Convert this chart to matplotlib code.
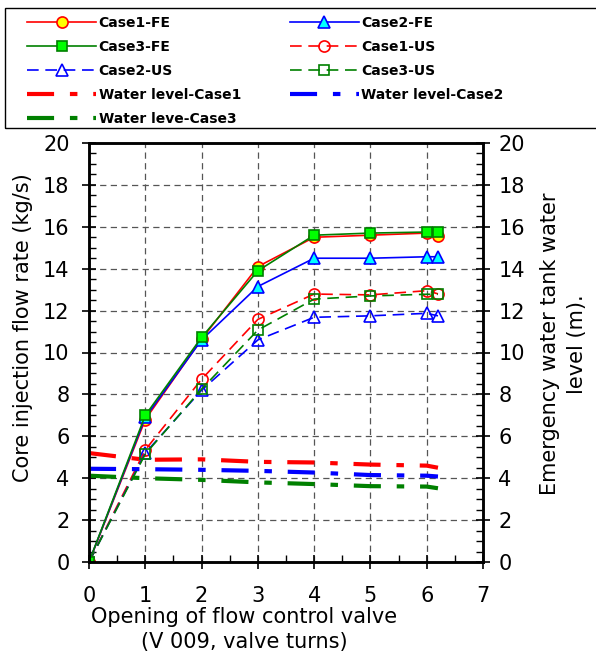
import matplotlib
matplotlib.use("Agg")
import matplotlib.pyplot as plt
from matplotlib.ticker import MultipleLocator
from matplotlib.patches import Rectangle

turns = [0, 1, 2, 3, 4, 5, 6, 6.2]
case1_fe = [0, 6.8, 10.63, 14.1, 15.5, 15.6, 15.7, 15.55]
case2_fe = [0, 6.9, 10.6, 13.15, 14.5, 14.5, 14.57, 14.57]
case3_fe = [0, 7.0, 10.72, 13.9, 15.6, 15.7, 15.75, 15.75]
case1_us = [0, 5.35, 8.72, 11.58, 12.79, 12.75, 12.95, 12.8]
case2_us = [0, 5.2, 8.2, 10.6, 11.68, 11.75, 11.87, 11.75]
case3_us = [0, 5.15, 8.25, 11.07, 12.55, 12.7, 12.78, 12.78]
wl1 = [5.2, 4.88, 4.9, 4.78, 4.75, 4.65, 4.6, 4.5]
wl2 = [4.45, 4.43, 4.4, 4.35, 4.27, 4.15, 4.12, 4.08]
wl3 = [4.12, 4.0, 3.92, 3.8, 3.72, 3.62, 3.6, 3.52]

plt.rcParams['font.family'] = ['DejaVu Sans']

fig = plt.figure(figsize=(5.96, 6.55), dpi=100)
ax = fig.add_axes([89/596, 1-562/655, (483-89)/596, (562-143)/655])

lw_fe = 1.2
us_dash = (7, 4)
wl_dash = (6.5, 3.8, 1.8, 3.8)

h = {}
h['c1us'], = ax.plot(turns, case1_us, color='red', lw=lw_fe, dashes=us_dash, marker='o', ms=8,
                     mfc='none', mec='red', mew=1.2, label='Case1-US')
h['c2us'], = ax.plot(turns, case2_us, color='blue', lw=lw_fe, dashes=us_dash, marker='^', ms=9,
                     mfc='none', mec='blue', mew=1.2, label='Case2-US')
h['c3us'], = ax.plot(turns, case3_us, color='green', lw=lw_fe, dashes=us_dash, marker='s', ms=7.5,
                     mfc='none', mec='green', mew=1.2, label='Case3-US')
h['c1fe'], = ax.plot(turns, case1_fe, color='red', lw=lw_fe, marker='o', ms=8,
                     mfc='yellow', mec='red', mew=1.2, label='Case1-FE')
h['c2fe'], = ax.plot(turns, case2_fe, color='blue', lw=lw_fe, marker='^', ms=9,
                     mfc='cyan', mec='blue', mew=1.2, label='Case2-FE')
h['c3fe'], = ax.plot(turns, case3_fe, color='green', lw=lw_fe, marker='s', ms=7.5,
                     mfc='lime', mec='green', mew=1.2, label='Case3-FE')
h['wl1'], = ax.plot(turns, wl1, color='red', lw=3, dashes=wl_dash,
                    dash_capstyle='butt', label='Water level-Case1')
h['wl2'], = ax.plot(turns, wl2, color='blue', lw=3, dashes=wl_dash,
                    dash_capstyle='butt', label='Water level-Case2')
h['wl3'], = ax.plot(turns, wl3, color='green', lw=3, dashes=wl_dash,
                    dash_capstyle='butt', label='Water leve-Case3')

ax.set_xlim(0, 7)
ax.set_ylim(0, 20)
ax.xaxis.set_major_locator(MultipleLocator(1))
ax.xaxis.set_minor_locator(MultipleLocator(0.5))
ax.yaxis.set_major_locator(MultipleLocator(2))
ax.yaxis.set_minor_locator(MultipleLocator(0.5))
ax.grid(True, which='major', color='#555555', ls=(0, (5, 3.5)), lw=0.9)
ax.tick_params(which='major', direction='inout', length=10, width=1.2, labelsize=15,
               top=False, right=False)
ax.tick_params(axis='x', which='major', pad=12.5)
ax.tick_params(axis='y', which='major', pad=9)
ax.tick_params(which='minor', direction='in', length=5, width=1.0, top=False, right=False)
for s in ax.spines.values():
    s.set_linewidth(1.8)

ax.set_xlabel('Opening of flow control valve\n(V 009, valve turns)', fontsize=15, linespacing=1.3,
              labelpad=2)
ax.xaxis.set_label_coords(0.393, -0.108, transform=ax.transAxes)
ax.xaxis.label.set_va('top')
ax.set_ylabel('Core injection flow rate (kg/s)', fontsize=15)
ax.yaxis.set_label_coords(-0.142, 0.56)

ax2 = ax.twinx()
ax2.set_ylim(0, 20)
ax2.yaxis.set_major_locator(MultipleLocator(2))
ax2.yaxis.set_minor_locator(MultipleLocator(0.5))
ax2.tick_params(which='major', direction='inout', length=10, width=1.2, labelsize=15, pad=6)
ax2.tick_params(which='minor', direction='in', length=5, width=1.0)
ax2.set_ylabel('Emergency water tank water\nlevel (m).', fontsize=15, linespacing=1.45)
ax2.yaxis.set_label_coords(1.145, 0.52)
for s in ax2.spines.values():
    s.set_linewidth(1.8)

fig.patches.append(Rectangle((5/596, 1-128/655), 1.0, 120/655, transform=fig.transFigure,
                             fill=False, ec='black', lw=1.0))

order = ['c1fe', 'c3fe', 'c2us', 'wl1', 'wl3', 'c2fe', 'c1us', 'c3us', 'wl2']
leg = fig.legend([h[k] for k in order], [h[k].get_label() for k in order],
                 loc='upper left', bbox_to_anchor=(27/596, 1-16/655),
                 ncol=2, frameon=False,
                 prop={'weight': 'bold', 'size': 10}, handlelength=5.0, handletextpad=0.15,
                 labelspacing=0.72, borderaxespad=0, borderpad=0, columnspacing=3.5)

fig.savefig('out.png', dpi=100)
